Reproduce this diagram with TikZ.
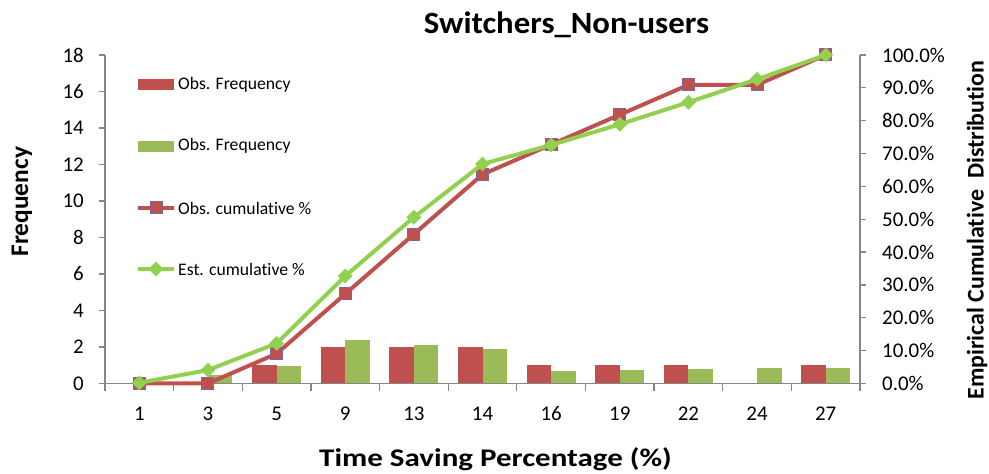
\documentclass[tikz,border=0pt]{standalone}
\usepackage{fontspec}
\setmainfont[Ligatures=NoCommon]{Carlito}
\usetikzlibrary{shapes.geometric}
\definecolor{obsred}{HTML}{C0504D}
\definecolor{estgreen}{HTML}{9BBB59}
\definecolor{linegreen}{HTML}{92D050}
\definecolor{mkborder}{HTML}{8064A2}
\definecolor{axisgray}{HTML}{868686}
\tikzset{
  axisline/.style={draw=axisgray, line width=1.2bp},
  ticklbl/.style={font=\fontsize{21}{21}\selectfont, inner sep=0pt},
  legendlbl/.style={font=\fontsize{17.7}{18}\selectfont, anchor=west, inner sep=0pt},
  axistitle/.style={font=\bfseries\fontsize{25.5}{26}\selectfont, inner sep=0pt},
  redbar/.style={fill=obsred, draw=none},
  greenbar/.style={fill=estgreen, draw=none},
  obsline/.style={draw=obsred, line width=4bp, line join=round},
  estline/.style={draw=linegreen, line width=4bp, line join=round},
  sqmark/.style={rectangle, fill=obsred, draw=mkborder, line width=1bp, minimum size=12bp, inner sep=0pt},
  dmmark/.style={diamond, fill=linegreen, draw=none, minimum size=15bp, inner sep=0pt},
}
\begin{document}
\begin{tikzpicture}[x=1bp, y=-1bp]
\useasboundingbox (0,0) rectangle (989,474);
% plot frame: categories span 105..860, zero line at 383.5
\def\xl{105}\def\xr{860}\def\yz{383.5}
\def\cw{68.636}
% bars: category index / observed / estimated frequency
\foreach \i/\o/\e in {0/0/0.02,1/0/0.45,2/1/0.96,3/2/2.38,4/2/2.11,5/2/1.89,6/1/0.68,7/1/0.74,8/1/0.79,9/0/0.83,10/1/0.87}{
  \pgfmathsetmacro{\cx}{\xl+\cw*(\i+0.5)}
  \ifdim \o pt>0pt
    \fill[redbar] (\cx-24.5,\yz) rectangle (\cx,\yz-\o*18.25);
  \fi
  \fill[greenbar] (\cx,\yz) rectangle (\cx+24.5,\yz-\e*18.25);
}
% axes
\draw[axisline] (\xl,\yz) -- (\xr,\yz);
\draw[axisline] (\xl,55) -- (\xl,391);
\draw[axisline] (\xr,55) -- (\xr,391);
\foreach \k in {0,...,9}{
  \draw[axisline] (\xl-6,\yz-\k*36.5) -- (\xl,\yz-\k*36.5);
  \pgfmathtruncatemacro{\v}{2*\k}
  \node[ticklbl, anchor=east] (yl\k) at (84,\yz-\k*36.5) {\v};
}
\foreach \k in {0,...,10}{
  \draw[axisline] (\xr,\yz-\k*32.85) -- (\xr+6,\yz-\k*32.85);
  \pgfmathtruncatemacro{\p}{10*\k}
  \node[ticklbl, anchor=west] (yr\k) at (882,\yz-\k*32.85) {\p.0\%};
}
\foreach \k in {1,...,10}{
  \draw[axisline] (\xl+\k*\cw,\yz) -- (\xl+\k*\cw,391);
}
\foreach \i/\t in {0/1,1/3,2/5,3/9,4/13,5/14,6/16,7/19,8/22,9/24,10/27}{
  \node[ticklbl] (xl\i) at (\xl+\cw*\i+\cw/2,414) {\t};
}
% cumulative curves (percent)
\foreach \i/\o/\e in {0/0/0.2,1/0/4.1,2/9.09/12.2,3/27.27/32.7,4/45.45/50.6,5/63.64/66.8,6/72.73/72.6,7/81.82/78.9,8/90.91/85.6,9/90.91/92.6,10/100/100}{
  \coordinate (o\i) at (\xl+\cw*\i+\cw/2,\yz-\o*3.285);
  \coordinate (e\i) at (\xl+\cw*\i+\cw/2,\yz-\e*3.285);
}
\draw[obsline] (o0) -- (o1) -- (o2) -- (o3) -- (o4) -- (o5) -- (o6) -- (o7) -- (o8) -- (o9) -- (o10);
\foreach \i in {0,...,10}{ \node[sqmark] (om\i) at (o\i) {}; }
\draw[estline] (e0) -- (e1) -- (e2) -- (e3) -- (e4) -- (e5) -- (e6) -- (e7) -- (e8) -- (e9) -- (e10);
\foreach \i in {0,...,10}{ \node[dmmark] (em\i) at (e\i) {}; }
% legend
\fill[redbar] (137.5,79.3) rectangle (174,90);
\node[legendlbl] (lg1) at (178,84.5) {Obs. Frequency};
\fill[greenbar] (137.5,141) rectangle (174,151.7);
\node[legendlbl] (lg2) at (178,146) {Obs. Frequency};
\coordinate (la) at (137.5,208); \coordinate (lb) at (174,208);
\draw[obsline] (la) -- (lb);
\node[sqmark] (lm3) at (156,208) {};
\node[legendlbl] (lg3) at (178,208) {Obs. cumulative \%};
\coordinate (lc) at (137.5,269); \coordinate (ld) at (174,269);
\draw[estline] (lc) -- (ld);
\node[dmmark] (lm4) at (156,269) {};
\node[legendlbl] (lg4) at (178,269) {Est. cumulative \%};
% titles
\node[font=\bfseries\fontsize{31}{32}\selectfont, inner sep=0pt] (title) at (566.5,25) {\scalebox{1.06}[1]{Switchers\_Non-users}};
\node[axistitle] (xt) at (495.5,459) {\scalebox{1.22}[1]{Time Saving Percentage (\%)}};
\node[axistitle, rotate=90] (yt) at (22,201.7) {Frequency};
\node[axistitle, font=\bfseries\fontsize{24}{25}\selectfont, rotate=90] (yt2) at (977,230) {Empirical Cumulative\ \ Distribution};
\end{tikzpicture}
\end{document}
